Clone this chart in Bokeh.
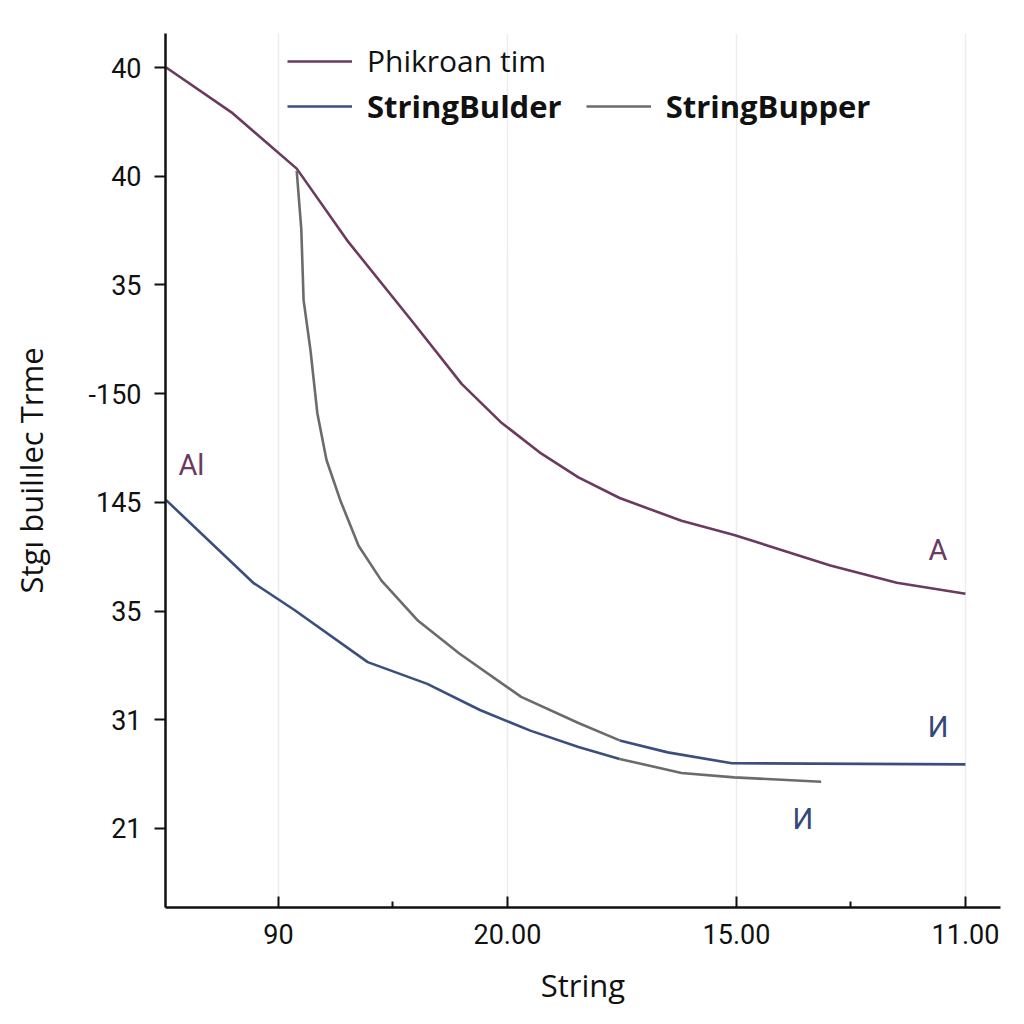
from bokeh.plotting import figure
from bokeh.models import (ColumnDataSource, FixedTicker, Legend, LegendItem, Range1d)
from bokeh.core.properties import value
from bokeh.embed import file_html
from bokeh.resources import INLINE

# ---- data ----
x_ticks = [1, 2, 3, 4]
x_tick_labels = ["90", "20.00", "15.00", "11.00"]
x_minor = [1.5, 3.5]
y_ticks = [0, 1, 2, 3, 4, 5, 6, 7]
y_tick_labels = ["21", "31", "35", "145", "-150", "35", "40", "40"]

phik_x = [0.51, 0.80, 1.08, 1.30, 1.59, 1.80, 1.97, 2.14, 2.31, 2.49, 2.76, 2.99, 3.41, 3.70, 4.00]
phik_y = [7.00, 6.58, 6.07, 5.41, 4.65, 4.09, 3.74, 3.46, 3.23, 3.04, 2.83, 2.70, 2.42, 2.26, 2.16]

sb_x_a = [0.51, 0.89, 1.07, 1.39, 1.65, 1.88, 2.10, 2.31, 2.49]
sb_y_a = [3.02, 2.26, 2.01, 1.53, 1.33, 1.09, 0.90, 0.75, 0.64]
sb_x_b = [2.49, 2.70, 2.98, 4.00]
sb_y_b = [0.81, 0.70, 0.60, 0.59]

sbu_x_a = [1.08, 1.10, 1.11, 1.14, 1.17, 1.21, 1.27, 1.35, 1.45, 1.61, 1.79, 2.06, 2.31, 2.49]
sbu_y_a = [6.05, 5.51, 4.86, 4.40, 3.82, 3.39, 3.02, 2.60, 2.28, 1.91, 1.61, 1.21, 0.97, 0.81]
sbu_x_b = [2.49, 2.76, 2.99, 3.37]
sbu_y_b = [0.64, 0.51, 0.47, 0.43]

ann_text = ["Al", "A", "И", "И"]
ann_x = [0.62, 3.88, 3.88, 3.29]
ann_y = [3.34, 2.56, 0.93, 0.09]
ann_color = ["#6b3a5f", "#6b3a5f", "#34497a", "#34497a"]

PURPLE = "#6b3a5f"
BLUE = "#3b4f7e"
GRAY = "#6b6b6b"
FONT = "Roboto"
FONT2 = "Open Sans"

p = figure(width=1016, height=1016, output_backend="svg", toolbar_location=None,
           x_range=Range1d(0.507, 4.153), y_range=Range1d(-0.727, 7.313),
           min_border_left=165, min_border_right=16, min_border_top=33, min_border_bottom=109)
p.outline_line_color = None
p.background_fill_color = "white"

r_phik = p.line(phik_x, phik_y, line_color=PURPLE, line_width=2.6)
src_sb = ColumnDataSource(dict(xs=[sb_x_a, sb_x_b], ys=[sb_y_a, sb_y_b]))
r_sb = p.multi_line("xs", "ys", source=src_sb, line_color=BLUE, line_width=2.6)
src_sbu = ColumnDataSource(dict(xs=[sbu_x_a, sbu_x_b], ys=[sbu_y_a, sbu_y_b]))
r_sbu = p.multi_line("xs", "ys", source=src_sbu, line_color=GRAY, line_width=2.6)

ann_src = ColumnDataSource(dict(x=ann_x, y=ann_y, t=ann_text, c=ann_color))
p.text("x", "y", text="t", source=ann_src, text_color="c", text_font=value(FONT),
       text_font_size="29px", text_font_style="normal", text_align="center", text_baseline="middle")

# axes
p.xaxis.ticker = FixedTicker(ticks=x_ticks, minor_ticks=x_minor)
p.xaxis.major_label_overrides = {t: l for t, l in zip(x_ticks, x_tick_labels)}
p.yaxis.ticker = FixedTicker(ticks=y_ticks, minor_ticks=[])
p.yaxis.major_label_overrides = {t: l for t, l in zip(y_ticks, y_tick_labels)}

for ax in (p.xaxis[0], p.yaxis[0]):
    ax.axis_line_color = "#111111"
    ax.axis_line_width = 2.5
    ax.major_tick_line_color = "#111111"
    ax.major_tick_line_width = 2
    ax.minor_tick_line_color = "#111111"
    ax.minor_tick_line_width = 2
    ax.major_label_text_font = FONT
    ax.major_label_text_font_size = "27px"
    ax.major_label_text_color = "#111111"
    ax.axis_label_text_font = FONT2
    ax.axis_label_text_font_size = "31px"
    ax.axis_label_text_font_style = "normal"
    ax.axis_label_text_color = "#111111"

p.xaxis.major_tick_in = 11
p.xaxis.major_tick_out = 0
p.xaxis.minor_tick_in = 6
p.xaxis.minor_tick_out = 0
p.xaxis.major_label_standoff = 16
p.xaxis.axis_label = "String"
p.xaxis.axis_label_standoff = 17

p.yaxis.major_tick_in = 0
p.yaxis.major_tick_out = 11
p.yaxis.major_label_standoff = 13
p.yaxis.axis_label = "Stgı builılec Trme"
p.yaxis.axis_label_standoff = 34

p.xgrid.ticker = FixedTicker(ticks=x_ticks)
p.xgrid.grid_line_color = "#ececec"
p.xgrid.grid_line_width = 1.5
p.ygrid.grid_line_color = None

def mk_legend(items, loc, style, orient, size):
    lg = Legend(items=items, location=loc, orientation=orient,
                label_text_font=FONT2, label_text_font_size=size,
                label_text_font_style=style, label_text_color="#111111",
                glyph_width=65, glyph_height=28, label_standoff=15,
                label_height=28, spacing=24, padding=0, margin=0,
                border_line_color=None, background_fill_alpha=0)
    return lg

lg1 = mk_legend([LegendItem(label="Phikroan tim", renderers=[r_phik])], (122, 826), "normal", "vertical", "30px")
lg2 = mk_legend([LegendItem(label="StringBulder", renderers=[r_sb]),
                 LegendItem(label="StringBupper", renderers=[r_sbu])], (122, 780), "bold", "horizontal", "31px")
p.add_layout(lg1)
p.add_layout(lg2)

open("out.html", "w").write(file_html(p, INLINE))
